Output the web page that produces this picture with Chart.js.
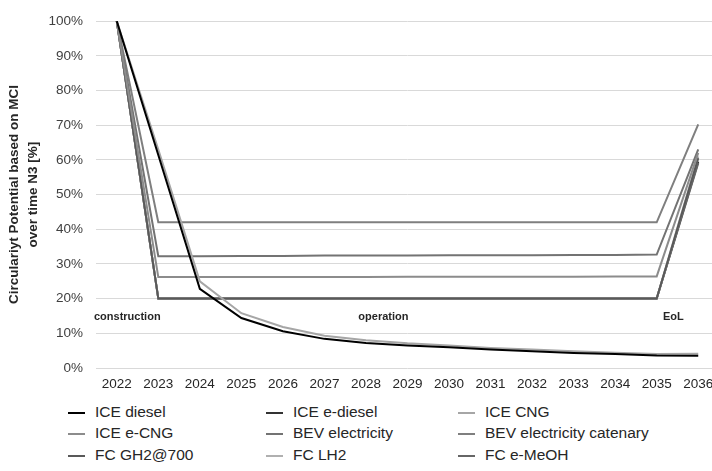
<!DOCTYPE html>
<html>
<head>
<meta charset="utf-8">
<script src="https://cdn.jsdelivr.net/npm/chart.js@4/dist/chart.umd.min.js"></script>
<style>
  html, body { margin: 0; padding: 0; background: #fff; overflow: hidden; width: 712px; height: 471px; }
  #wrap { position: absolute; left: 0; top: 0; width: 722px; height: 400px; }
  #legend { position: absolute; left: 0; top: 401px; width: 712px; height: 70px;
            font-family: "Liberation Sans", Arial, sans-serif; font-size: 15.5px; color: #262626; }
  .item { position: absolute; height: 20px; line-height: 20px; white-space: nowrap; }
  .item span.swatch { position: absolute; left: 0; top: 10px; height: 2px; width: 17px; }
  .item span.txt { position: absolute; left: 27px; top: 0; }
</style>
</head>
<body>
<div id="wrap"><canvas id="mciChart" width="722" height="400"></canvas></div>
<div id="legend"></div>
<script>
// data (values in %)
const years = ['2022', '2023', '2024', '2025', '2026', '2027', '2028', '2029', '2030', '2031', '2032', '2033', '2034', '2035', '2036'];
const seriesNames = ['ICE diesel', 'ICE e-diesel', 'ICE CNG', 'ICE e-CNG', 'BEV electricity', 'BEV electricity catenary', 'FC GH2@700', 'FC LH2', 'FC e-MeOH'];

const iceDiesel   = [100, 61.4, 22.8, 14.4, 10.6, 8.4, 7.2, 6.5, 6.0, 5.3, 4.8, 4.3, 4.0, 3.6, 3.5];
const iceEDiesel  = [100, 20.0, 20.0, 20.0, 20.0, 20.0, 20.0, 20.0, 20.0, 20.0, 20.0, 20.0, 20.0, 20.0, 59.5];
const iceCng      = [100, 63.0, 25.0, 15.8, 11.8, 9.3, 8.0, 7.1, 6.5, 5.8, 5.3, 4.8, 4.4, 4.0, 4.1];
const iceECng     = [100, 26.2, 26.2, 26.2, 26.2, 26.2, 26.2, 26.3, 26.3, 26.3, 26.3, 26.3, 26.4, 26.4, 62.0];
const bevElec     = [100, 32.2, 32.2, 32.3, 32.3, 32.4, 32.4, 32.4, 32.5, 32.5, 32.5, 32.6, 32.6, 32.7, 63.0];
const bevCatenary = [100, 42.0, 42.0, 42.0, 42.0, 42.0, 42.0, 42.0, 42.0, 42.0, 42.0, 42.0, 42.0, 42.0, 70.2];
const fcGh2       = [100, 20.0, 20.0, 20.0, 20.0, 20.0, 20.0, 20.0, 20.0, 20.0, 20.0, 20.0, 20.0, 20.0, 60.5];
const fcLh2       = [100, 20.0, 20.0, 20.0, 20.0, 20.0, 20.0, 20.0, 20.0, 20.0, 20.0, 20.0, 20.0, 20.0, 61.0];
const fcEMeoh     = [100, 20.0, 20.0, 20.0, 20.0, 20.0, 20.0, 20.0, 20.0, 20.0, 20.0, 20.0, 20.0, 20.0, 59.0];

const yTicks = [0, 10, 20, 30, 40, 50, 60, 70, 80, 90, 100];
const phaseLabels = ['construction', 'operation', 'EoL'];

const allSeries = [iceDiesel, iceEDiesel, iceCng, iceECng, bevElec, bevCatenary, fcGh2, fcLh2, fcEMeoh];
const lineColors = ['#000000', '#333333', '#a6a6a6', '#8c8c8c', '#737373', '#7f7f7f', '#595959', '#b0b0b0', '#666666'];
// e-diesel sits under the other 20% lines
const drawOrder = [0, 2, 0, 0, 0, 0, 0, 0, 0];

const fontFam = '"Liberation Sans", Arial, sans-serif';

// construction / operation / EoL labels inside the plot
const phasePlugin = {
    id: 'phases',
    afterDatasetsDraw(chart) {
        const ctx = chart.ctx;
        const x = chart.scales.x, y = chart.scales.y;
        const step = x.getPixelForValue(1) - x.getPixelForValue(0);
        const yy = y.getPixelForValue(14.6);
        ctx.save();
        ctx.font = 'bold 11px ' + fontFam;
        ctx.fillStyle = '#262626';
        ctx.textBaseline = 'middle';
        ctx.textAlign = 'left';
        ctx.fillText(phaseLabels[0], chart.chartArea.left - 2, yy);
        ctx.textAlign = 'center';
        ctx.fillText(phaseLabels[1], x.getPixelForValue(6) + step * 0.42, yy);
        ctx.fillText(phaseLabels[2], x.getPixelForValue(13) + step * 0.4, yy);
        ctx.restore();
    }
};

const ctx = document.getElementById('mciChart').getContext('2d');
const mciChart = new Chart(ctx, {
    type: 'line',
    data: {
        labels: years,
        datasets: allSeries.map((vals, i) => ({
            label: seriesNames[i],
            data: vals,
            order: drawOrder[i],
            borderColor: lineColors[i],
            backgroundColor: lineColors[i],
            borderWidth: 2,
            pointRadius: 0,
            tension: 0,
            fill: false
        }))
    },
    options: {
        responsive: false,
        animation: false,
        layout: { padding: { top: 13, right: 3, left: 0, bottom: 0 } },
        plugins: {
            legend: { display: false },
            tooltip: { enabled: false }
        },
        scales: {
            x: {
                offset: true,
                grid: { display: false, drawTicks: false },
                border: { display: false },
                ticks: {
                    color: '#262626',
                    font: { family: fontFam, size: 13.5 },
                    padding: 8,
                    maxRotation: 0,
                    autoSkip: false
                },
                afterFit(scale) { scale.height = 32; }
            },
            y: {
                min: 0,
                max: 100,
                afterBuildTicks(scale) { scale.ticks = yTicks.map(v => ({ value: v })); },
                grid: { color: '#d9d9d9', lineWidth: 1, drawTicks: false },
                border: { display: false },
                ticks: {
                    color: '#404040',
                    font: { family: fontFam, size: 13.5 },
                    padding: 13,
                    callback: v => v + '%'
                },
                title: {
                    display: true,
                    text: ['Circulariyt Potential based on MCI', 'over time N3 [%]'],
                    color: '#262626',
                    font: { family: fontFam, size: 13.5, weight: 'bold', lineHeight: 1.45 },
                    padding: { top: 4, bottom: 0 }
                },
                afterFit(scale) { scale.width = 96; }
            }
        }
    },
    plugins: [phasePlugin]
});

// legend in three columns, built from the same names and colours
const legendCols = [95, 293, 485];
const legendRows = [402, 423, 445];
const legendBox = document.getElementById('legend');
seriesNames.forEach((name, i) => {
    const item = document.createElement('div');
    item.className = 'item';
    item.style.left = (legendCols[i % 3] - 27) + 'px';
    item.style.top = (legendRows[Math.floor(i / 3)] - 401) + 'px';
    item.innerHTML = '<span class="swatch" style="background:' + lineColors[i] + '"></span><span class="txt"></span>';
    item.querySelector('.txt').textContent = name;
    legendBox.appendChild(item);
});
</script>
</body>
</html>
